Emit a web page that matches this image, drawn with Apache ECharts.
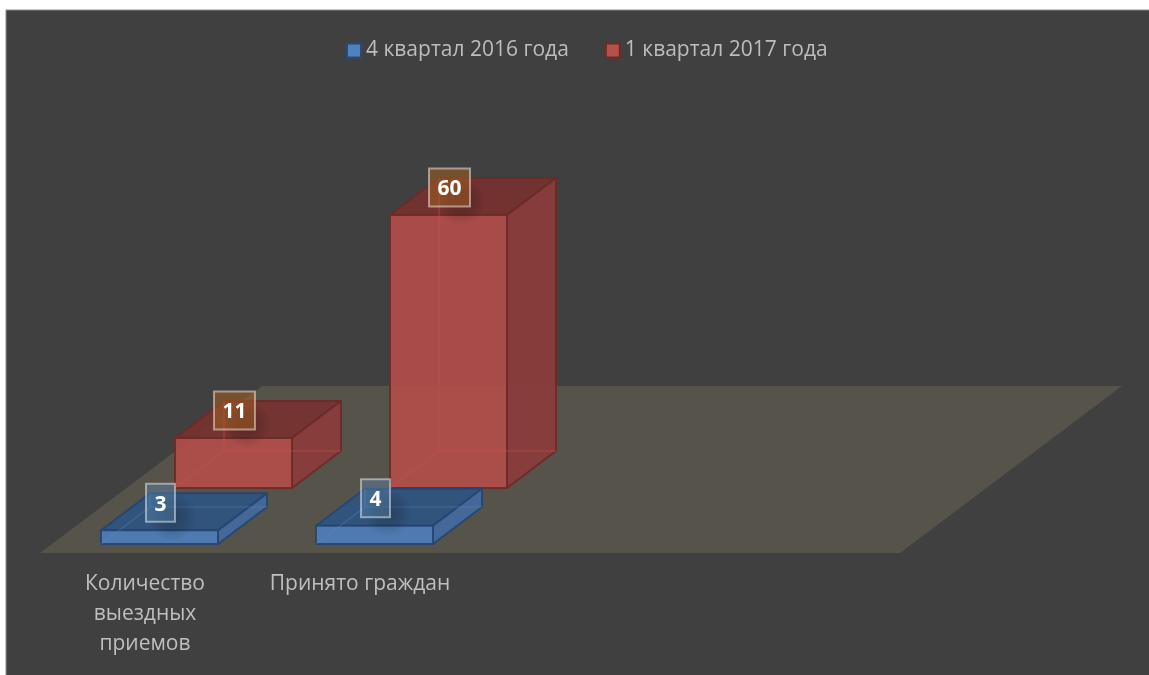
<!DOCTYPE html>
<html><head><meta charset="utf-8">
<style>html,body{margin:0;padding:0;background:#fff}#c{width:1149px;height:675px}</style>
<script src="https://cdn.jsdelivr.net/npm/echarts@6/dist/echarts.min.js"></script>
</head><body><div id="c"></div>
<script>
const categories = ['Количество\nвыездных\nприемов', 'Принято граждан', '', ''];
const seriesNames = ['4 квартал 2016 года', '1 квартал 2017 года'];
const values2016 = [3, 4];
const values2017 = [11, 60];

const FONT = '"Open Sans"';
const BLUE = {legend:'#4F81BD', legendB:'#2A4A75', front:'rgba(78,124,184,0.94)', top:'rgba(46,84,130,0.90)', side:'rgba(66,106,158,0.92)', line:'rgba(38,69,112,0.9)', inner:'rgba(90,140,200,0.3)',
  box:'rgba(90,135,175,0.42)', boxB:'rgba(225,230,235,0.55)'};
const RED = {legend:'#B5504C', legendB:'#6E2A26', front:'rgba(178,78,74,0.93)', top:'rgba(118,50,47,0.93)', side:'rgba(138,60,58,0.94)', line:'rgba(108,42,39,0.9)', inner:'rgba(200,80,76,0.4)',
  box:'rgba(160,95,35,0.55)', boxB:'rgba(235,225,215,0.55)'};

const BAR_W = 117, DX = 49, DY = -37;

function floorItem(params, api) {
  const c = api.coord([0, 0]);
  const band = api.size([1, 0])[0];
  const x0 = c[0] - band / 2 + 2.5, y0 = c[1] + 9, w = band * 4;
  return {type:'polygon', shape:{points:[[x0,y0],[x0+w,y0],[x0+w+222,y0-167],[x0+222,y0-167]]},
    style:{fill:'#56534A'}, silent:true};
}
function boxItem(style, xShift, yShift) {
  return function (params, api) {
    const i = api.value(0), v = api.value(1);
    const base = api.coord([i, 0]), top = api.coord([i, v]);
    const l = base[0] + xShift - BAR_W / 2, r = l + BAR_W;
    const b = base[1] + yShift, t = top[1] + yShift;
    const poly = (pts, fill) => ({type:'polygon', shape:{points:pts},
      style:{fill, stroke:style.line, lineWidth:2, lineJoin:'round'}, silent:true});
    const ghost = (pts) => ({type:'polyline', shape:{points:pts}, style:{fill:null, stroke:style.inner, lineWidth:1.5}, silent:true});
    const cx = (l + r) / 2 + 1, cy = t - 27.5;
    const txt = String(v);
    const bw = txt.length > 1 ? 41 : 29;
    return {type:'group', children:[
      poly([[l,t],[r,t],[r+DX,t+DY],[l+DX,t+DY]], style.top),
      poly([[r,t],[r+DX,t+DY],[r+DX,b+DY],[r,b]], style.side),
      poly([[l,t],[r,t],[r,b],[l,b]], style.front),
      ghost([[l,b],[l+DX,b+DY],[r+DX,b+DY]]),
      ghost([[l+DX,b+DY],[l+DX,t+DY]]),
      {type:'rect', shape:{x:cx-12,y:cy-12,width:48,height:52}, silent:true,
        style:{fill:{type:'radial',x:0.5,y:0.5,r:0.5,colorStops:[{offset:0,color:'rgba(0,0,0,0.22)'},{offset:0.6,color:'rgba(0,0,0,0.12)'},{offset:1,color:'rgba(0,0,0,0)'}]}}},
      {type:'rect', shape:{x:cx-bw/2,y:cy-19,width:bw,height:38}, silent:true,
        style:{fill:style.box, stroke:style.boxB, lineWidth:2}},
      {type:'text', silent:true, style:{x:cx,y:cy+2,text:txt,fill:'#fff',align:'center',verticalAlign:'middle',
        font:'bold 21px '+FONT}}
    ]};
  };
}
const rows = (vals) => vals.map((v, i) => [i, v]);
const chart = echarts.init(document.getElementById('c'), null, {renderer:'canvas', width:1149, height:675});
chart.setOption({
  animation:false,
  backgroundColor:'#ffffff',
  graphic:[{type:'rect', z:-10, silent:true, shape:{x:6,y:10,width:1160,height:680}, style:{fill:'#404040', stroke:'#8a8a8a', lineWidth:1}}],
  grid:{left:37.5, width:860, top:180, height:364},
  legend:{show:true, data:seriesNames, left:341, top:35, itemWidth:14, itemHeight:14, itemGap:36, icon:'rect',
    textStyle:{color:'#BDBDBD', fontFamily:FONT, fontSize:21}},
  xAxis:{type:'category', data:categories, axisLine:{show:false}, axisTick:{show:false}, splitLine:{show:false},
    axisLabel:{color:'#BFBFBF', fontFamily:FONT, fontSize:21, lineHeight:30, margin:25, interval:0}},
  yAxis:{type:'value', min:0, max:80, show:false},
  series:[
    {type:'custom', name:'floor', coordinateSystem:'cartesian2d', data:[[0,0]], renderItem:floorItem, z:1, clip:false, silent:true},
    {type:'custom', name:seriesNames[1], coordinateSystem:'cartesian2d', data:rows(values2017), renderItem:boxItem(RED, 88.5, -56), z:2, clip:false, silent:true,
      itemStyle:{color:RED.legend, borderColor:RED.legendB, borderWidth:2}},
    {type:'custom', name:seriesNames[0], coordinateSystem:'cartesian2d', data:rows(values2016), renderItem:boxItem(BLUE, 14.5, 0), z:3, clip:false, silent:true,
      itemStyle:{color:BLUE.legend, borderColor:BLUE.legendB, borderWidth:2}}
  ]
});
</script></body></html>
